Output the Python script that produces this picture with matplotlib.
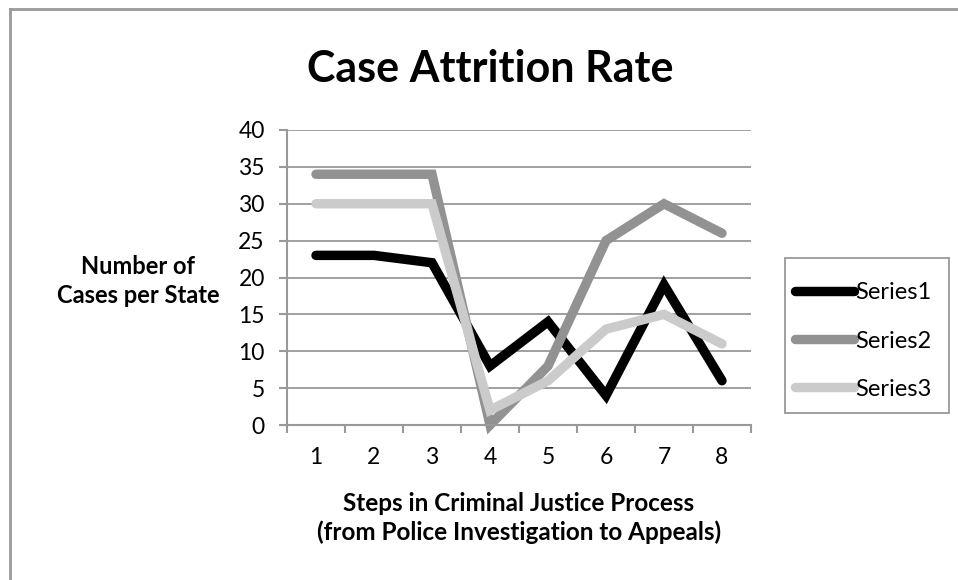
import matplotlib

matplotlib.use("Agg")

import matplotlib.pyplot as plt
from matplotlib.lines import Line2D
from matplotlib.patches import Rectangle

plt.rcParams["font.family"] = ["Lato", "DejaVu Sans"]

steps = [1, 2, 3, 4, 5, 6, 7, 8]
series1 = [23, 23, 22, 8, 14, 4, 19, 6]
series2 = [34, 34, 34, 0, 8, 25, 30, 26]
series3 = [30, 30, 30, 2, 6, 13, 15, 11]
series_names = ["Series1", "Series2", "Series3"]
series_colors = ["#000000", "#929292", "#cbcbcb"]

W, H = 958, 580
fig = plt.figure(figsize=(W / 100, H / 100), dpi=100)
ax = fig.add_axes([287 / W, 1 - 425 / H, (751 - 287) / W, (425 - 130) / H])

# chart-area border (only top and left edges are visible)
fig.add_artist(Line2D([10 / W, 1], [1 - 9 / H, 1 - 9 / H], color="#999999", lw=2))
fig.add_artist(Line2D([10 / W, 10 / W], [0, 1 - 9 / H], color="#999999", lw=2))

for values, name, color in zip([series1, series2, series3], series_names, series_colors):
    ax.plot(steps, values, color=color, lw=6.8, label=name, clip_on=False,
            solid_capstyle="round", solid_joinstyle="miter")

ax.set_xlim(0.5, 8.5)
ax.set_ylim(0, 40)
ax.set_yticks(range(0, 41, 5))
ax.set_xticks(steps)
ax.set_xticks([s + 0.5 for s in [0] + steps], minor=True)
ax.grid(axis="y", color="#999999", lw=1.3)
ax.set_axisbelow(True)

for side in ["top", "right"]:
    ax.spines[side].set_visible(False)
for side in ["left", "bottom"]:
    ax.spines[side].set_color("#999999")
    ax.spines[side].set_linewidth(1.5)

ax.tick_params(axis="x", which="major", length=0, pad=16, labelsize=16.5)
ax.tick_params(axis="x", which="minor", length=6, width=1.5, color="#999999", direction="out")
ax.tick_params(axis="y", length=6, width=1.5, color="#999999", direction="out", pad=10, labelsize=16.5)

fig.text(490 / W, 1 - 82 / H, "Case Attrition Rate", ha="center", va="baseline",
         fontsize=31, fontweight="bold")
fig.text(138 / W, 1 - 281 / H, "Number of\nCases per State", ha="center", va="center",
         fontsize=17, fontweight="bold", linespacing=1.3)
fig.text(519 / W, 1 - 518 / H, "Steps in Criminal Justice Process\n(from Police Investigation to Appeals)",
         ha="center", va="center", fontsize=17.5, fontweight="bold", linespacing=1.3)

# legend frame drawn separately so the padding can match the source
fig.add_artist(Rectangle((785 / W, 1 - 413 / H), (949 - 785) / W, (413 - 258) / H,
                         transform=fig.transFigure, facecolor="white",
                         edgecolor="#999999", lw=1.3))
fig.legend(loc="center left", bbox_to_anchor=(795 / W, 1 - 341 / H),
           fontsize=17, handlelength=2.5, handletextpad=0.05,
           labelspacing=1.15, borderpad=0, borderaxespad=0, frameon=False)

fig.savefig("out.png", dpi=100)
